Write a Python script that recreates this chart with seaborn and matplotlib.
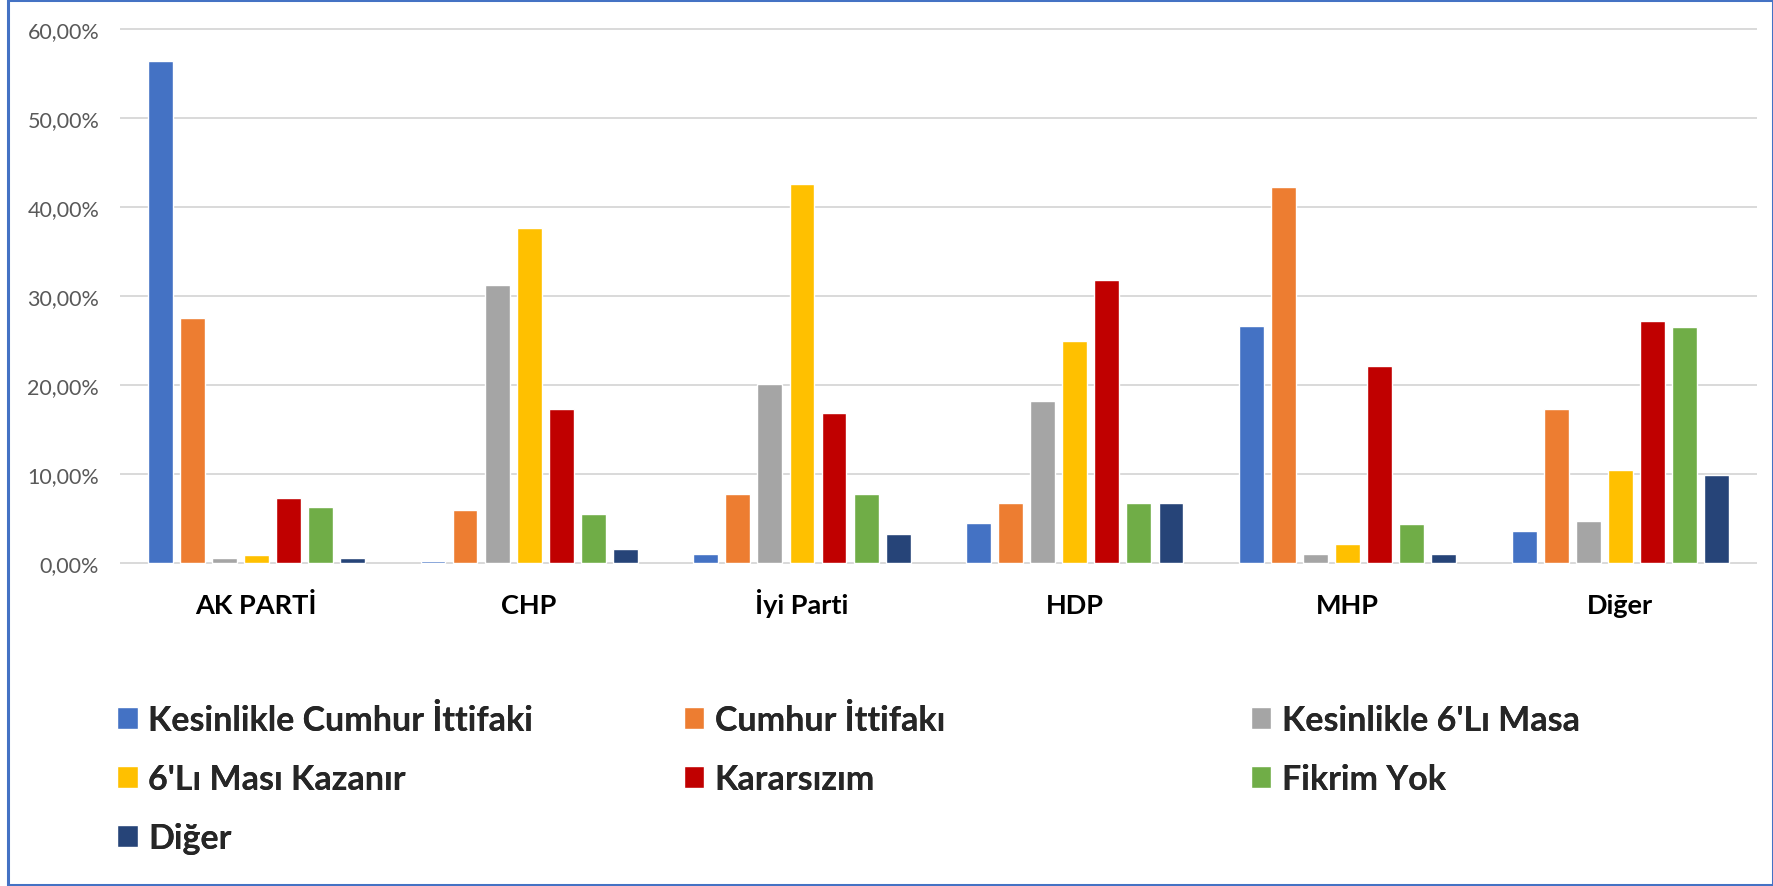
import matplotlib
matplotlib.use("Agg")
import matplotlib.pyplot as plt
from matplotlib.patches import Patch, Rectangle
from matplotlib.ticker import FuncFormatter
import seaborn as sns
import pandas as pd

# ── Veriler (%) ────────────────────────────────────────────────────────────────
partiler = ["AK PARTİ", "CHP", "İyi Parti", "HDP", "MHP", "Diğer"]

kesin_cumhur = [56.4, 0.3, 1.1, 4.5, 26.7, 3.6]
cumhur = [27.6, 6.0, 7.8, 6.8, 42.2, 17.3]
kesin_masa = [0.6, 31.2, 20.1, 18.2, 1.1, 4.8]
masa_kazanir = [0.9, 37.7, 42.6, 25.0, 2.2, 10.5]
kararsiz = [7.3, 17.3, 16.9, 31.8, 22.2, 27.2]
fikrim_yok = [6.3, 5.5, 7.8, 6.8, 4.4, 26.5]
diger = [0.6, 1.6, 3.3, 6.8, 1.1, 9.9]

seriler = ["Kesinlikle Cumhur İttifaki", "Cumhur İttifakı", "Kesinlikle 6'Lı Masa",
           "6'Lı Ması Kazanır", "Kararsızım", "Fikrim Yok", "Diğer"]
renkler = ["#4472C4", "#ED7D31", "#A5A5A5", "#FFC000", "#C00000", "#70AD47", "#264478"]

degerler = [kesin_cumhur, cumhur, kesin_masa, masa_kazanir, kararsiz, fikrim_yok, diger]
rows = []
for seri, vals in zip(seriler, degerler):
    for parti, v in zip(partiler, vals):
        rows.append({"parti": parti, "seri": seri, "oran": v})
df = pd.DataFrame(rows)

sns.set_theme(style="white")
plt.rcParams["font.family"] = ["Lato", "DejaVu Sans"]

W, H = 1774, 887
fig = plt.figure(figsize=(W / 100, H / 100), dpi=100)
ax = fig.add_axes([120 / W, 1 - 567.0 / H, (1756.7 - 120) / W, (567.0 - 27.3) / H])

sns.barplot(data=df, x="parti", y="oran", hue="seri", order=partiler, hue_order=seriler,
            palette=renkler, saturation=1, errorbar=None, width=0.823, gap=0.224,
            legend=False, ax=ax)

ax.set_xlim(-0.5, 5.5)
ax.set_ylim(-0.3, 60.3)
ax.set_yticks(range(0, 61, 10))
ax.yaxis.set_major_formatter(FuncFormatter(lambda v, _: f"{v:.2f}%".replace(".", ",")))
ax.grid(axis="y", color="#D9D9D9", linewidth=1.4)
ax.set_axisbelow(True)
for s in ax.spines.values():
    s.set_visible(False)
ax.set_xlabel("")
ax.set_ylabel("")
ax.tick_params(axis="y", length=0, pad=15, labelsize=15.5, labelcolor="#595959")
ax.tick_params(axis="x", length=0, pad=34, labelsize=19.5, labelcolor="black")
for t in ax.get_xticklabels():
    t.set_fontweight("bold")
    t.set_verticalalignment("baseline")

# Excel tarzı lejant: eşit genişlikte 3 sütun
sutunlar = [[0, 3, 6], [1, 4], [2, 5]]
sutun_x = [117.3, 684.0, 1251.0]
for idx, x in zip(sutunlar, sutun_x):
    handles = [Patch(facecolor=renkler[i]) for i in idx]
    labels = [seriler[i] for i in idx]
    leg = fig.legend(handles, labels, loc="upper left", bbox_to_anchor=(x / W, 1 - 705 / H),
                     frameon=False, prop={"size": 24.5, "weight": "bold"},
                     handlelength=0.6, handleheight=0.6, handletextpad=0.3,
                     labelspacing=0.79, borderpad=0, borderaxespad=0)
    fig.add_artist(leg)

# dış çerçeve
fig.add_artist(Rectangle((8.3 / W, 1 / H), (1772.8 - 8.3) / W, (886 - 1) / H,
                         transform=fig.transFigure, fill=False,
                         edgecolor="#4472C4", linewidth=2.2))

fig.savefig("out.png", dpi=100)
plt.close(fig)
